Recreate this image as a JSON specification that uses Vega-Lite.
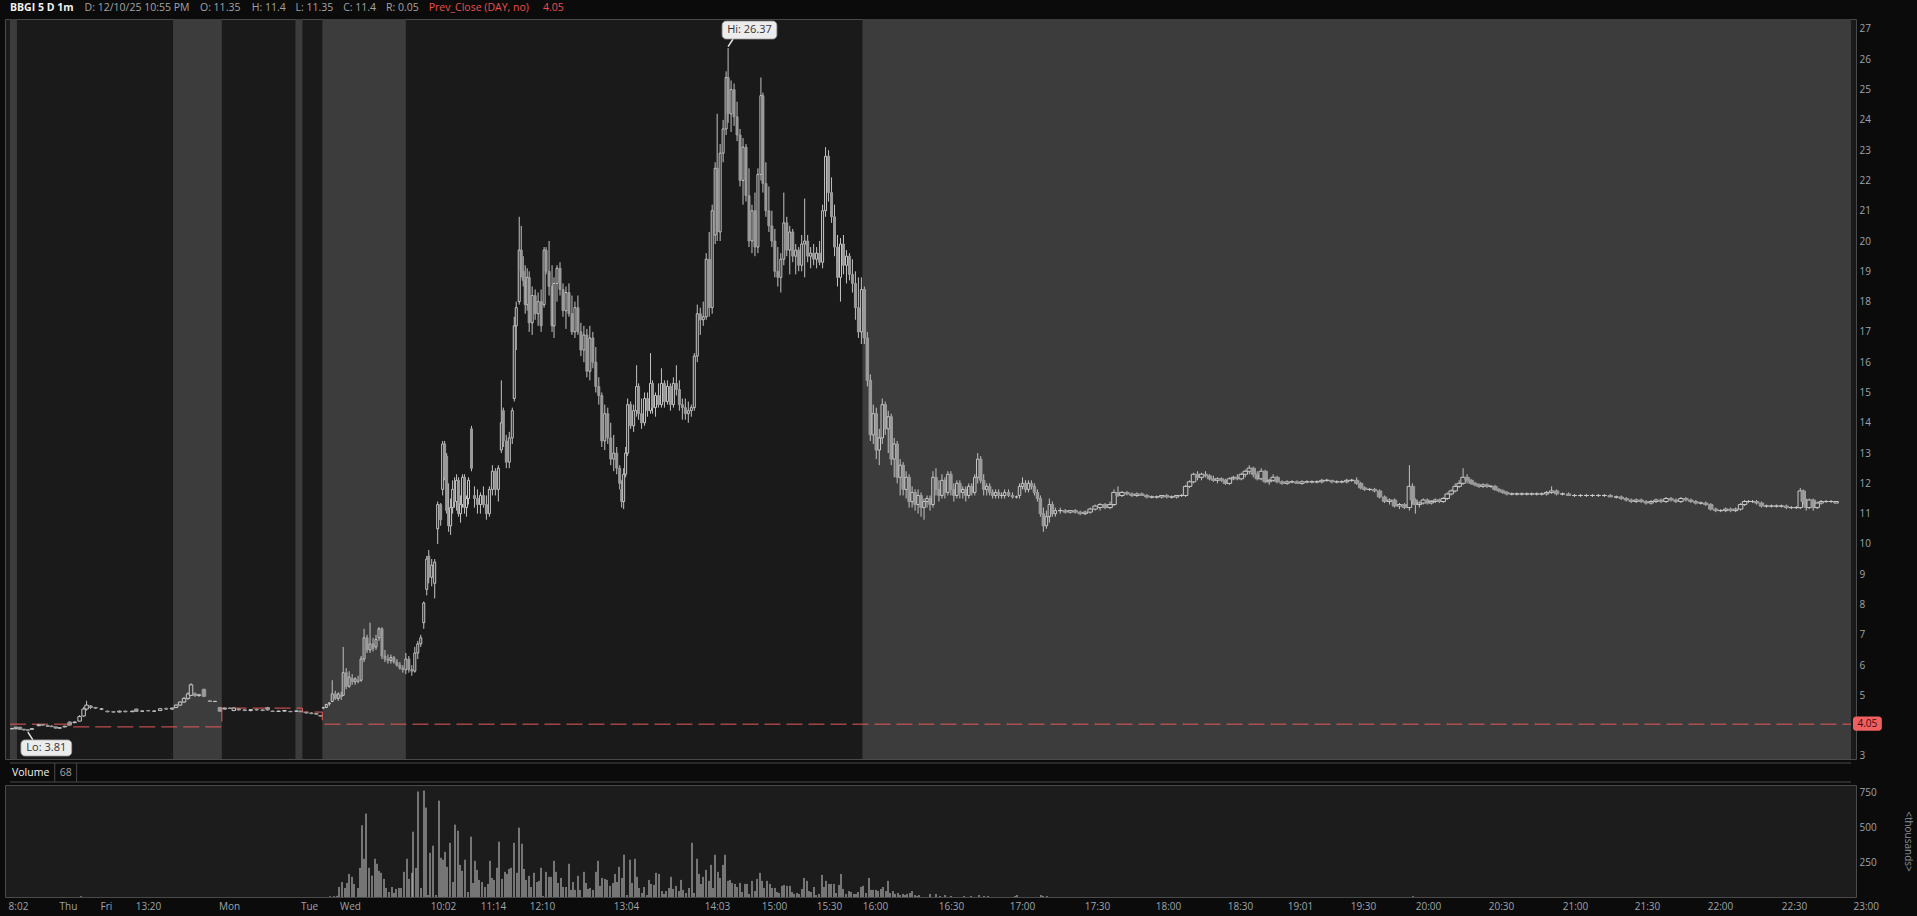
{
"$schema":"https://vega.github.io/schema/vega-lite/v6.json",
"background":"#0b0b0b",
"padding":{"left":4,"top":2,"right":4,"bottom":4},
"spacing":1,
"config":{"font":"Open Sans","view":{"stroke":"#4a4a4a"},"axis":{"labelOverlap":false}},
"datasets":{
"sess":[{"a":4,"b":11},{"a":168,"b":217},{"a":291,"b":298},{"a":318,"b":402},{"a":861,"b":1855}],
"pc":[{"i":4,"p":4.05},{"i":62,"p":3.96},{"i":217,"p":4.58},{"i":298,"p":4.45},{"i":318,"p":4.05},{"i":1855,"p":4.05}],
"candles":[
{"i":6,"o":3.9,"h":3.92,"l":3.88,"c":3.9},{"i":10,"o":3.9,"h":3.96,"l":3.88,"c":3.95},{"i":14,"o":3.95,"h":3.96,"l":3.86,"c":3.88},{"i":18,"o":3.88,"h":3.9,"l":3.84,"c":3.86},{"i":22,"o":3.86,"h":3.88,"l":3.81,"c":3.85},{"i":26,"o":3.88,"h":3.92,"l":3.86,"c":3.9},{"i":33,"o":4.0,"h":4.06,"l":3.98,"c":4.03},{"i":37,"o":4.03,"h":4.05,"l":4.0,"c":4.02},{"i":42,"o":4.0,"h":4.02,"l":3.96,"c":3.98},{"i":46,"o":3.98,"h":4.02,"l":3.95,"c":3.97},{"i":50,"o":3.96,"h":3.97,"l":3.9,"c":3.92},{"i":54,"o":3.92,"h":3.94,"l":3.9,"c":3.93},{"i":59,"o":3.96,"h":4.0,"l":3.95,"c":3.98},{"i":64,"o":4.12,"h":4.14,"l":4.0,"c":4.02},{"i":69,"o":4.1,"h":4.14,"l":4.08,"c":4.12},{"i":74,"o":4.15,"h":4.35,"l":4.14,"c":4.3},{"i":78,"o":4.32,"h":4.62,"l":4.3,"c":4.55},{"i":81,"o":4.55,"h":4.82,"l":4.5,"c":4.68},{"i":85,"o":4.65,"h":4.68,"l":4.55,"c":4.6},{"i":90,"o":4.6,"h":4.62,"l":4.55,"c":4.58},{"i":96,"o":4.55,"h":4.58,"l":4.52,"c":4.55},{"i":102,"o":4.48,"h":4.5,"l":4.44,"c":4.46},{"i":108,"o":4.46,"h":4.48,"l":4.42,"c":4.45},{"i":114,"o":4.45,"h":4.5,"l":4.44,"c":4.48},{"i":120,"o":4.48,"h":4.5,"l":4.44,"c":4.46},{"i":127,"o":4.46,"h":4.5,"l":4.45,"c":4.48},{"i":131,"o":4.55,"h":4.56,"l":4.45,"c":4.47},{"i":137,"o":4.48,"h":4.5,"l":4.46,"c":4.48},{"i":143,"o":4.5,"h":4.52,"l":4.47,"c":4.49},{"i":149,"o":4.48,"h":4.5,"l":4.46,"c":4.48},{"i":155,"o":4.5,"h":4.58,"l":4.49,"c":4.56},{"i":161,"o":4.56,"h":4.6,"l":4.52,"c":4.55},{"i":167,"o":4.55,"h":4.6,"l":4.52,"c":4.58},{"i":171,"o":4.6,"h":4.7,"l":4.58,"c":4.68},{"i":175,"o":4.68,"h":4.8,"l":4.65,"c":4.78},{"i":179,"o":4.78,"h":4.95,"l":4.75,"c":4.9},{"i":183,"o":4.9,"h":5.1,"l":4.85,"c":5.05},{"i":186,"o":5.0,"h":5.4,"l":4.98,"c":5.35},{"i":190,"o":5.05,"h":5.1,"l":4.95,"c":5.0},{"i":194,"o":5.0,"h":5.05,"l":4.95,"c":5.02},{"i":199,"o":5.2,"h":5.22,"l":4.95,"c":4.97},{"i":205,"o":4.82,"h":4.84,"l":4.78,"c":4.8},{"i":210,"o":4.8,"h":4.82,"l":4.78,"c":4.8},{"i":215,"o":4.6,"h":4.62,"l":4.45,"c":4.48},{"i":220,"o":4.55,"h":4.6,"l":4.53,"c":4.58},{"i":225,"o":4.58,"h":4.6,"l":4.55,"c":4.57},{"i":229,"o":4.5,"h":4.6,"l":4.48,"c":4.58},{"i":234,"o":4.55,"h":4.57,"l":4.5,"c":4.52},{"i":240,"o":4.52,"h":4.55,"l":4.48,"c":4.5},{"i":246,"o":4.5,"h":4.55,"l":4.47,"c":4.53},{"i":252,"o":4.53,"h":4.56,"l":4.5,"c":4.52},{"i":258,"o":4.52,"h":4.55,"l":4.48,"c":4.5},{"i":263,"o":4.6,"h":4.62,"l":4.5,"c":4.52},{"i":268,"o":4.48,"h":4.5,"l":4.45,"c":4.47},{"i":274,"o":4.47,"h":4.5,"l":4.45,"c":4.48},{"i":280,"o":4.48,"h":4.52,"l":4.46,"c":4.5},{"i":286,"o":4.47,"h":4.49,"l":4.45,"c":4.46},{"i":292,"o":4.48,"h":4.5,"l":4.46,"c":4.48},{"i":296,"o":4.48,"h":4.5,"l":4.45,"c":4.46},{"i":302,"o":4.44,"h":4.46,"l":4.4,"c":4.42},{"i":307,"o":4.42,"h":4.44,"l":4.38,"c":4.4},{"i":312,"o":4.4,"h":4.42,"l":4.36,"c":4.38},{"i":316,"o":4.33,"h":4.35,"l":4.3,"c":4.32},
{"i":319,"o":4.58,"h":4.62,"l":4.55,"c":4.6},{"i":322,"o":4.6,"h":4.72,"l":4.58,"c":4.7},{"i":325,"o":4.72,"h":4.78,"l":4.65,"c":4.75},{"i":328,"o":4.8,"h":5.5,"l":4.78,"c":5.05},{"i":331,"o":5.05,"h":5.15,"l":4.85,"c":4.9},{"i":334,"o":4.9,"h":5.1,"l":4.82,"c":5.05},{"i":337,"o":5.0,"h":5.12,"l":4.85,"c":4.95},{"i":339,"o":5.0,"h":6.6,"l":4.98,"c":5.75},{"i":342,"o":5.75,"h":5.9,"l":5.2,"c":5.3},{"i":345,"o":5.3,"h":5.8,"l":5.25,"c":5.6},{"i":348,"o":5.55,"h":5.7,"l":5.35,"c":5.45},{"i":351,"o":5.45,"h":5.6,"l":5.35,"c":5.55},{"i":354,"o":5.5,"h":5.65,"l":5.4,"c":5.45},{"i":357,"o":5.5,"h":6.3,"l":5.45,"c":6.2},{"i":360,"o":6.2,"h":7.2,"l":6.1,"c":6.9},{"i":363,"o":6.9,"h":7.0,"l":6.4,"c":6.5},{"i":366,"o":6.5,"h":7.4,"l":6.4,"c":6.7},{"i":369,"o":6.7,"h":6.9,"l":6.45,"c":6.55},{"i":372,"o":6.6,"h":7.0,"l":6.5,"c":6.85},{"i":375,"o":6.9,"h":7.25,"l":6.8,"c":7.2},{"i":378,"o":7.2,"h":7.25,"l":6.2,"c":6.3},{"i":381,"o":6.3,"h":6.5,"l":6.1,"c":6.2},{"i":384,"o":6.2,"h":6.35,"l":6.05,"c":6.15},{"i":387,"o":6.15,"h":6.35,"l":6.05,"c":6.25},{"i":390,"o":6.25,"h":6.3,"l":6.05,"c":6.1},{"i":393,"o":6.1,"h":6.2,"l":5.95,"c":6.0},{"i":396,"o":6.0,"h":6.1,"l":5.85,"c":5.9},{"i":399,"o":5.9,"h":6.0,"l":5.75,"c":5.85},{"i":402,"o":5.85,"h":6.4,"l":5.7,"c":6.2},{"i":405,"o":6.2,"h":6.3,"l":5.75,"c":5.85},{"i":408,"o":5.85,"h":6.0,"l":5.65,"c":5.8},
{"i":411,"o":5.8,"h":6.6,"l":5.75,"c":6.4},{"i":414,"o":6.4,"h":6.8,"l":6.2,"c":6.7},{"i":417,"o":6.7,"h":7.0,"l":6.6,"c":6.9},{"i":420,"o":7.4,"h":8.1,"l":7.2,"c":8.05},{"i":423,"o":8.5,"h":9.6,"l":8.3,"c":9.5},{"i":425,"o":9.6,"h":9.8,"l":8.7,"c":8.9},{"i":428,"o":8.9,"h":9.5,"l":8.6,"c":9.3},{"i":431,"o":8.7,"h":9.5,"l":8.2,"c":9.4},{"i":434,"o":10.5,"h":11.4,"l":10.0,"c":11.3},{"i":437,"o":11.3,"h":11.35,"l":10.6,"c":10.8},{"i":439,"o":11.8,"h":13.4,"l":11.6,"c":13.3},{"i":441,"o":13.3,"h":13.4,"l":12.1,"c":12.2},{"i":443,"o":12.9,"h":13.0,"l":11.0,"c":11.1},{"i":445,"o":11.1,"h":12.0,"l":10.4,"c":10.6},{"i":447,"o":10.6,"h":11.5,"l":10.3,"c":11.2},{"i":449,"o":11.2,"h":12.1,"l":11.0,"c":11.8},{"i":451,"o":11.8,"h":12.2,"l":11.2,"c":11.4},{"i":453,"o":11.4,"h":12.3,"l":11.1,"c":12.1},{"i":455,"o":12.1,"h":12.2,"l":10.9,"c":11.0},{"i":457,"o":11.0,"h":11.6,"l":10.7,"c":11.3},{"i":459,"o":11.3,"h":12.3,"l":11.2,"c":12.2},{"i":461,"o":12.2,"h":12.3,"l":11.0,"c":11.2},{"i":463,"o":11.2,"h":11.6,"l":10.9,"c":11.5},{"i":465,"o":11.5,"h":12.2,"l":11.3,"c":12.1},{"i":468,"o":13.8,"h":13.9,"l":12.4,"c":12.5},{"i":471,"o":11.6,"h":11.9,"l":11.2,"c":11.5},{"i":474,"o":11.5,"h":11.8,"l":11.0,"c":11.3},{"i":477,"o":11.3,"h":11.7,"l":11.0,"c":11.6},{"i":480,"o":11.6,"h":11.9,"l":11.2,"c":11.3},{"i":483,"o":11.3,"h":11.6,"l":10.8,"c":11.0},{"i":486,"o":11.0,"h":11.9,"l":10.9,"c":11.8},{"i":489,"o":11.8,"h":12.6,"l":11.6,"c":12.4},{"i":492,"o":12.4,"h":12.5,"l":11.6,"c":11.8},{"i":495,"o":11.8,"h":12.6,"l":11.4,"c":12.5},{"i":498,"o":13.1,"h":15.4,"l":13.0,"c":14.0},{"i":500,"o":14.4,"h":14.5,"l":13.2,"c":13.4},{"i":503,"o":13.4,"h":13.6,"l":12.5,"c":12.7},{"i":506,"o":12.7,"h":13.7,"l":12.5,"c":13.5},{"i":509,"o":13.5,"h":14.5,"l":13.3,"c":14.4},{"i":511,"o":14.8,"h":17.5,"l":14.7,"c":17.2},{"i":513,"o":17.2,"h":18.0,"l":16.4,"c":17.8},{"i":516,"o":18.0,"h":20.8,"l":17.9,"c":19.7},{"i":518,"o":19.7,"h":20.5,"l":18.8,"c":19.0},{"i":520,"o":19.0,"h":19.5,"l":18.5,"c":18.7},{"i":522,"o":18.7,"h":19.2,"l":17.6,"c":17.9},{"i":524,"o":17.9,"h":19.1,"l":17.7,"c":18.8},{"i":526,"o":18.8,"h":19.0,"l":17.0,"c":17.3},{"i":529,"o":17.3,"h":18.5,"l":16.9,"c":18.2},{"i":532,"o":18.2,"h":18.4,"l":17.4,"c":17.6},{"i":535,"o":17.6,"h":18.3,"l":17.2,"c":18.0},{"i":538,"o":18.0,"h":18.4,"l":17.0,"c":17.2},{"i":541,"o":17.9,"h":19.8,"l":17.8,"c":19.7},{"i":543,"o":19.7,"h":19.8,"l":18.9,"c":19.0},{"i":546,"o":19.0,"h":20.0,"l":18.2,"c":18.5},{"i":549,"o":18.5,"h":19.2,"l":17.0,"c":17.2},{"i":551,"o":17.2,"h":18.8,"l":16.8,"c":18.6},{"i":554,"o":18.6,"h":19.2,"l":18.0,"c":19.1},{"i":557,"o":19.1,"h":19.3,"l":18.2,"c":18.4},{"i":560,"o":18.4,"h":18.6,"l":17.5,"c":17.7},{"i":563,"o":17.7,"h":18.5,"l":17.1,"c":18.3},{"i":566,"o":18.3,"h":18.6,"l":17.5,"c":17.6},{"i":569,"o":17.6,"h":18.2,"l":16.9,"c":17.0},{"i":572,"o":17.0,"h":18.0,"l":16.8,"c":17.8},{"i":575,"o":17.8,"h":18.2,"l":16.9,"c":17.0},{"i":578,"o":17.0,"h":17.3,"l":16.2,"c":16.4},{"i":581,"o":16.4,"h":17.2,"l":16.0,"c":16.9},{"i":584,"o":16.9,"h":17.1,"l":15.5,"c":15.7},{"i":587,"o":15.7,"h":17.2,"l":15.4,"c":16.8},{"i":590,"o":16.8,"h":17.0,"l":15.8,"c":16.0},{"i":593,"o":16.0,"h":16.5,"l":15.0,"c":15.2},{"i":596,"o":15.2,"h":15.5,"l":14.6,"c":14.9},{"i":599,"o":14.9,"h":15.0,"l":13.2,"c":13.4},{"i":602,"o":13.4,"h":14.6,"l":13.1,"c":14.3},{"i":605,"o":14.3,"h":14.5,"l":13.3,"c":13.5},{"i":608,"o":13.5,"h":14.0,"l":12.6,"c":12.8},{"i":611,"o":12.8,"h":13.6,"l":12.4,"c":13.0},{"i":614,"o":13.0,"h":13.2,"l":12.3,"c":12.5},{"i":617,"o":12.5,"h":12.6,"l":11.8,"c":12.0},{"i":619,"o":11.8,"h":12.1,"l":11.2,"c":11.4},{"i":621,"o":11.4,"h":12.5,"l":11.15,"c":12.3},{"i":623,"o":12.3,"h":13.2,"l":12.2,"c":13.0},{"i":625,"o":13.0,"h":14.8,"l":12.9,"c":14.6},{"i":628,"o":14.6,"h":14.7,"l":13.8,"c":13.9},{"i":631,"o":13.9,"h":14.6,"l":13.7,"c":14.4},{"i":634,"o":14.4,"h":15.9,"l":14.2,"c":15.2},{"i":636,"o":15.2,"h":15.3,"l":14.1,"c":14.3},{"i":639,"o":14.3,"h":14.8,"l":13.8,"c":14.0},{"i":642,"o":14.0,"h":15.0,"l":13.9,"c":14.8},{"i":645,"o":14.8,"h":15.0,"l":14.2,"c":14.4},{"i":648,"o":14.4,"h":16.3,"l":14.3,"c":15.3},{"i":650,"o":15.3,"h":15.4,"l":14.3,"c":14.5},{"i":653,"o":14.5,"h":15.0,"l":14.2,"c":14.9},{"i":656,"o":14.9,"h":15.3,"l":14.5,"c":14.6},{"i":659,"o":14.6,"h":15.8,"l":14.5,"c":15.3},{"i":662,"o":15.3,"h":15.4,"l":14.5,"c":14.7},{"i":665,"o":14.7,"h":15.4,"l":14.6,"c":15.2},{"i":668,"o":15.2,"h":15.3,"l":14.4,"c":14.6},{"i":671,"o":14.6,"h":15.5,"l":14.5,"c":15.3},{"i":674,"o":15.3,"h":15.9,"l":14.9,"c":15.1},{"i":677,"o":15.1,"h":15.4,"l":14.4,"c":14.6},{"i":680,"o":14.6,"h":14.8,"l":14.1,"c":14.5},{"i":683,"o":14.5,"h":14.8,"l":14.1,"c":14.3},{"i":686,"o":14.3,"h":14.7,"l":14.0,"c":14.4},{"i":689,"o":14.4,"h":14.6,"l":14.2,"c":14.5},{"i":692,"o":14.5,"h":16.3,"l":14.4,"c":16.2},{"i":695,"o":16.2,"h":17.9,"l":16.0,"c":17.6},{"i":698,"o":17.6,"h":17.8,"l":16.9,"c":17.4},{"i":701,"o":17.4,"h":18.0,"l":17.2,"c":17.5},{"i":704,"o":17.5,"h":19.6,"l":17.4,"c":19.4},{"i":707,"o":19.4,"h":20.3,"l":17.5,"c":17.8},{"i":710,"o":17.8,"h":21.2,"l":17.6,"c":21.0},{"i":713,"o":20.2,"h":22.6,"l":19.9,"c":22.4},{"i":715,"o":22.4,"h":24.2,"l":20.0,"c":20.3},{"i":718,"o":20.3,"h":23.2,"l":20.0,"c":22.9},{"i":721,"o":22.9,"h":24.0,"l":22.6,"c":23.7},{"i":724,"o":23.7,"h":25.6,"l":23.5,"c":25.4},{"i":726,"o":25.4,"h":26.37,"l":23.9,"c":24.2},{"i":729,"o":24.2,"h":25.3,"l":23.6,"c":25.0},{"i":732,"o":25.0,"h":25.2,"l":23.8,"c":24.1},{"i":735,"o":24.1,"h":24.6,"l":23.3,"c":23.5},{"i":738,"o":23.5,"h":23.7,"l":21.8,"c":22.0},{"i":741,"o":22.0,"h":23.4,"l":21.2,"c":23.1},{"i":744,"o":23.1,"h":23.2,"l":21.3,"c":21.5},{"i":747,"o":21.5,"h":22.4,"l":19.8,"c":20.0},{"i":750,"o":20.0,"h":21.2,"l":19.6,"c":21.0},{"i":753,"o":21.0,"h":21.6,"l":19.5,"c":19.8},{"i":756,"o":19.8,"h":22.4,"l":19.6,"c":22.2},{"i":759,"o":22.2,"h":25.4,"l":22.0,"c":24.8},{"i":761,"o":24.8,"h":24.9,"l":21.6,"c":21.9},{"i":764,"o":21.9,"h":22.6,"l":20.8,"c":21.0},{"i":767,"o":21.0,"h":21.8,"l":20.3,"c":20.5},{"i":770,"o":20.5,"h":21.0,"l":19.8,"c":20.0},{"i":773,"o":20.0,"h":20.4,"l":18.8,"c":19.0},{"i":776,"o":19.0,"h":19.8,"l":18.5,"c":18.8},{"i":779,"o":18.8,"h":19.6,"l":18.3,"c":19.4},{"i":782,"o":19.4,"h":21.6,"l":19.2,"c":20.6},{"i":785,"o":20.6,"h":20.8,"l":19.5,"c":19.7},{"i":788,"o":19.7,"h":20.5,"l":18.9,"c":20.3},{"i":791,"o":20.3,"h":20.4,"l":19.3,"c":19.5},{"i":794,"o":19.5,"h":19.9,"l":18.9,"c":19.7},{"i":797,"o":19.7,"h":19.8,"l":19.0,"c":19.2},{"i":800,"o":19.2,"h":20.2,"l":19.0,"c":19.9},{"i":803,"o":19.9,"h":21.4,"l":18.8,"c":20.0},{"i":806,"o":20.0,"h":20.2,"l":19.3,"c":19.5},{"i":809,"o":19.5,"h":19.8,"l":19.1,"c":19.6},{"i":812,"o":19.6,"h":19.9,"l":19.2,"c":19.4},{"i":815,"o":19.4,"h":19.8,"l":19.1,"c":19.6},{"i":818,"o":19.6,"h":20.0,"l":19.2,"c":19.3},{"i":821,"o":19.3,"h":21.2,"l":19.1,"c":21.0},{"i":824,"o":21.0,"h":23.1,"l":20.8,"c":22.8},{"i":827,"o":22.8,"h":23.0,"l":21.3,"c":21.6},{"i":830,"o":21.6,"h":22.1,"l":20.6,"c":20.8},{"i":833,"o":20.8,"h":21.2,"l":19.5,"c":19.8},{"i":836,"o":19.8,"h":20.2,"l":18.5,"c":18.8},{"i":839,"o":18.8,"h":20.1,"l":18.0,"c":19.9},{"i":842,"o":19.9,"h":20.2,"l":18.9,"c":19.2},{"i":845,"o":19.2,"h":19.7,"l":18.6,"c":19.5},{"i":848,"o":19.5,"h":19.6,"l":18.7,"c":18.9},{"i":851,"o":18.9,"h":19.4,"l":18.3,"c":18.6},{"i":854,"o":18.6,"h":19.0,"l":17.4,"c":17.8},{"i":857,"o":17.8,"h":18.8,"l":16.8,"c":17.0},{"i":860,"o":17.0,"h":18.8,"l":16.6,"c":18.4},
{"i":863,"o":18.4,"h":18.5,"l":16.6,"c":16.8},{"i":866,"o":16.8,"h":17.0,"l":15.2,"c":15.4},{"i":869,"o":15.4,"h":15.6,"l":13.4,"c":13.6},{"i":872,"o":13.6,"h":14.6,"l":13.3,"c":14.3},{"i":875,"o":14.3,"h":14.5,"l":12.8,"c":13.1},{"i":878,"o":13.1,"h":13.8,"l":12.6,"c":13.5},{"i":881,"o":13.5,"h":14.8,"l":13.3,"c":14.6},{"i":884,"o":14.6,"h":14.7,"l":13.6,"c":13.8},{"i":887,"o":13.8,"h":14.4,"l":13.0,"c":14.2},{"i":890,"o":14.2,"h":14.3,"l":12.6,"c":12.8},{"i":893,"o":12.8,"h":13.5,"l":12.2,"c":13.3},{"i":896,"o":13.3,"h":13.4,"l":12.0,"c":12.2},{"i":899,"o":12.2,"h":12.8,"l":11.6,"c":12.6},{"i":902,"o":12.6,"h":12.7,"l":11.6,"c":11.8},{"i":905,"o":11.8,"h":12.4,"l":11.5,"c":12.2},{"i":908,"o":12.2,"h":12.3,"l":11.2,"c":11.4},{"i":911,"o":11.4,"h":11.9,"l":11.2,"c":11.7},{"i":914,"o":11.7,"h":11.8,"l":11.1,"c":11.3},{"i":917,"o":11.3,"h":11.8,"l":11.0,"c":11.6},{"i":920,"o":11.6,"h":11.7,"l":10.9,"c":11.2},{"i":923,"o":11.2,"h":11.5,"l":10.8,"c":11.4},{"i":926,"o":11.4,"h":11.6,"l":11.2,"c":11.5},{"i":929,"o":11.5,"h":11.6,"l":11.1,"c":11.3},{"i":932,"o":11.3,"h":12.4,"l":11.2,"c":12.2},{"i":935,"o":12.2,"h":12.5,"l":11.6,"c":11.8},{"i":938,"o":11.8,"h":12.1,"l":11.4,"c":11.6},{"i":941,"o":11.6,"h":12.3,"l":11.5,"c":12.1},{"i":944,"o":12.1,"h":12.2,"l":11.5,"c":11.7},{"i":947,"o":11.7,"h":12.4,"l":11.6,"c":12.3},{"i":950,"o":12.3,"h":12.4,"l":11.6,"c":11.8},{"i":953,"o":11.8,"h":12.0,"l":11.4,"c":11.6},{"i":956,"o":11.6,"h":12.1,"l":11.5,"c":12.0},{"i":959,"o":12.0,"h":12.1,"l":11.5,"c":11.7},{"i":962,"o":11.7,"h":11.9,"l":11.5,"c":11.8},{"i":965,"o":11.8,"h":11.9,"l":11.4,"c":11.6},{"i":968,"o":11.6,"h":12.0,"l":11.5,"c":11.9},{"i":971,"o":11.9,"h":12.0,"l":11.6,"c":11.7},{"i":974,"o":11.7,"h":12.3,"l":11.6,"c":12.2},{"i":977,"o":12.2,"h":13.0,"l":12.0,"c":12.8},{"i":980,"o":12.8,"h":12.9,"l":12.0,"c":12.1},{"i":983,"o":12.1,"h":12.3,"l":11.6,"c":11.8},{"i":986,"o":11.8,"h":12.0,"l":11.6,"c":11.9},{"i":989,"o":11.9,"h":12.0,"l":11.6,"c":11.7},{"i":992,"o":11.7,"h":11.8,"l":11.5,"c":11.6},{"i":995,"o":11.6,"h":11.8,"l":11.5,"c":11.7},{"i":998,"o":11.7,"h":11.8,"l":11.5,"c":11.6},{"i":1001,"o":11.6,"h":11.7,"l":11.5,"c":11.6},{"i":1004,"o":11.6,"h":11.8,"l":11.5,"c":11.7},{"i":1008,"o":11.7,"h":11.8,"l":11.55,"c":11.6},{"i":1012,"o":11.6,"h":11.7,"l":11.5,"c":11.55},{"i":1016,"o":11.55,"h":11.6,"l":11.5,"c":11.55},{"i":1019,"o":11.6,"h":12.0,"l":11.5,"c":11.9},{"i":1022,"o":11.9,"h":12.2,"l":11.8,"c":12.0},{"i":1025,"o":12.0,"h":12.1,"l":11.7,"c":11.8},{"i":1028,"o":11.8,"h":12.1,"l":11.7,"c":12.0},{"i":1031,"o":12.0,"h":12.1,"l":11.8,"c":11.9},{"i":1034,"o":11.9,"h":12.0,"l":11.6,"c":11.7},{"i":1037,"o":11.7,"h":11.8,"l":11.4,"c":11.5},{"i":1040,"o":11.5,"h":11.6,"l":10.9,"c":11.0},{"i":1043,"o":11.0,"h":11.2,"l":10.4,"c":10.6},{"i":1046,"o":10.6,"h":11.1,"l":10.5,"c":10.9},{"i":1049,"o":10.9,"h":11.5,"l":10.7,"c":11.3},{"i":1052,"o":11.3,"h":11.4,"l":10.9,"c":11.0},{"i":1055,"o":11.0,"h":11.2,"l":10.9,"c":11.1},{"i":1060,"o":11.1,"h":11.2,"l":11.0,"c":11.1},{"i":1065,"o":11.1,"h":11.15,"l":11.0,"c":11.05},{"i":1070,"o":11.05,"h":11.1,"l":11.0,"c":11.1},{"i":1075,"o":11.1,"h":11.15,"l":11.0,"c":11.05},{"i":1080,"o":11.05,"h":11.1,"l":10.95,"c":11.0},{"i":1085,"o":11.0,"h":11.1,"l":10.95,"c":11.05},{"i":1090,"o":11.05,"h":11.2,"l":11.0,"c":11.15},{"i":1095,"o":11.15,"h":11.3,"l":11.1,"c":11.25},{"i":1100,"o":11.2,"h":11.35,"l":11.1,"c":11.3},{"i":1105,"o":11.3,"h":11.35,"l":11.15,"c":11.2},{"i":1110,"o":11.2,"h":11.4,"l":11.15,"c":11.3},{"i":1114,"o":11.3,"h":11.8,"l":11.25,"c":11.7},{"i":1118,"o":11.7,"h":11.9,"l":11.55,"c":11.6},{"i":1122,"o":11.6,"h":11.75,"l":11.55,"c":11.7},{"i":1127,"o":11.7,"h":11.75,"l":11.6,"c":11.65},{"i":1132,"o":11.65,"h":11.7,"l":11.55,"c":11.6},{"i":1137,"o":11.6,"h":11.7,"l":11.55,"c":11.65},{"i":1142,"o":11.65,"h":11.7,"l":11.6,"c":11.6},{"i":1147,"o":11.6,"h":11.65,"l":11.5,"c":11.55},{"i":1152,"o":11.55,"h":11.6,"l":11.5,"c":11.55},{"i":1157,"o":11.55,"h":11.6,"l":11.5,"c":11.55},{"i":1162,"o":11.55,"h":11.6,"l":11.5,"c":11.6},{"i":1167,"o":11.6,"h":11.65,"l":11.5,"c":11.55},{"i":1172,"o":11.55,"h":11.6,"l":11.5,"c":11.55},{"i":1177,"o":11.55,"h":11.6,"l":11.5,"c":11.6},{"i":1182,"o":11.6,"h":11.65,"l":11.55,"c":11.6},{"i":1186,"o":11.6,"h":11.95,"l":11.55,"c":11.9},{"i":1190,"o":11.9,"h":12.1,"l":11.85,"c":12.05},{"i":1194,"o":12.05,"h":12.35,"l":12.0,"c":12.3},{"i":1198,"o":12.3,"h":12.4,"l":12.1,"c":12.2},{"i":1202,"o":12.2,"h":12.35,"l":12.1,"c":12.3},{"i":1206,"o":12.3,"h":12.4,"l":12.2,"c":12.25},{"i":1210,"o":12.25,"h":12.3,"l":12.1,"c":12.15},{"i":1214,"o":12.15,"h":12.25,"l":12.05,"c":12.1},{"i":1218,"o":12.1,"h":12.2,"l":12.0,"c":12.15},{"i":1222,"o":12.15,"h":12.2,"l":12.05,"c":12.1},{"i":1226,"o":12.1,"h":12.15,"l":11.95,"c":12.0},{"i":1230,"o":12.0,"h":12.2,"l":11.95,"c":12.15},{"i":1234,"o":12.15,"h":12.25,"l":12.1,"c":12.2},{"i":1238,"o":12.2,"h":12.3,"l":12.1,"c":12.15},{"i":1242,"o":12.15,"h":12.35,"l":12.1,"c":12.3},{"i":1246,"o":12.3,"h":12.45,"l":12.2,"c":12.4},{"i":1250,"o":12.4,"h":12.6,"l":12.3,"c":12.5},{"i":1254,"o":12.5,"h":12.55,"l":12.2,"c":12.3},{"i":1258,"o":12.3,"h":12.4,"l":12.1,"c":12.15},{"i":1262,"o":12.15,"h":12.5,"l":12.1,"c":12.4},{"i":1266,"o":12.4,"h":12.45,"l":12.0,"c":12.05},{"i":1270,"o":12.05,"h":12.15,"l":11.95,"c":12.1},{"i":1274,"o":12.1,"h":12.3,"l":12.05,"c":12.2},{"i":1278,"o":12.2,"h":12.25,"l":12.0,"c":12.05},{"i":1283,"o":12.05,"h":12.1,"l":11.95,"c":12.0},{"i":1288,"o":12.0,"h":12.1,"l":11.95,"c":12.05},{"i":1293,"o":12.05,"h":12.1,"l":12.0,"c":12.05},{"i":1298,"o":12.05,"h":12.1,"l":12.0,"c":12.0},{"i":1303,"o":12.0,"h":12.1,"l":11.95,"c":12.05},{"i":1308,"o":12.05,"h":12.1,"l":12.0,"c":12.05},{"i":1313,"o":12.05,"h":12.1,"l":12.0,"c":12.05},{"i":1318,"o":12.05,"h":12.1,"l":12.0,"c":12.05},{"i":1323,"o":12.05,"h":12.15,"l":12.0,"c":12.1},{"i":1328,"o":12.1,"h":12.15,"l":12.05,"c":12.1},{"i":1333,"o":12.1,"h":12.1,"l":12.0,"c":12.05},{"i":1338,"o":12.05,"h":12.1,"l":12.0,"c":12.05},{"i":1343,"o":12.05,"h":12.1,"l":12.0,"c":12.05},{"i":1348,"o":12.05,"h":12.15,"l":12.0,"c":12.1},{"i":1353,"o":12.1,"h":12.15,"l":12.05,"c":12.1},{"i":1358,"o":12.1,"h":12.2,"l":11.95,"c":12.0},{"i":1362,"o":12.0,"h":12.05,"l":11.8,"c":11.85},{"i":1366,"o":11.85,"h":11.9,"l":11.75,"c":11.8},{"i":1371,"o":11.8,"h":11.85,"l":11.75,"c":11.8},{"i":1376,"o":11.8,"h":11.85,"l":11.7,"c":11.75},{"i":1381,"o":11.75,"h":11.8,"l":11.5,"c":11.55},{"i":1386,"o":11.55,"h":11.6,"l":11.35,"c":11.4},{"i":1391,"o":11.4,"h":11.5,"l":11.3,"c":11.45},{"i":1396,"o":11.45,"h":11.5,"l":11.2,"c":11.25},{"i":1401,"o":11.25,"h":11.35,"l":11.15,"c":11.3},{"i":1406,"o":11.3,"h":11.35,"l":11.15,"c":11.2},{"i":1411,"o":11.2,"h":12.6,"l":11.1,"c":11.9},{"i":1414,"o":11.9,"h":12.0,"l":11.3,"c":11.45},{"i":1417,"o":11.45,"h":11.5,"l":11.0,"c":11.3},{"i":1421,"o":11.3,"h":11.4,"l":11.2,"c":11.35},{"i":1425,"o":11.35,"h":11.5,"l":11.3,"c":11.45},{"i":1429,"o":11.45,"h":11.5,"l":11.3,"c":11.35},{"i":1433,"o":11.35,"h":11.45,"l":11.3,"c":11.4},{"i":1437,"o":11.4,"h":11.5,"l":11.35,"c":11.45},{"i":1441,"o":11.45,"h":11.5,"l":11.35,"c":11.4},{"i":1445,"o":11.4,"h":11.55,"l":11.35,"c":11.5},{"i":1449,"o":11.5,"h":11.7,"l":11.45,"c":11.65},{"i":1453,"o":11.65,"h":11.8,"l":11.6,"c":11.75},{"i":1457,"o":11.75,"h":12.0,"l":11.7,"c":11.9},{"i":1461,"o":11.9,"h":12.1,"l":11.85,"c":12.0},{"i":1465,"o":12.0,"h":12.5,"l":11.95,"c":12.2},{"i":1469,"o":12.2,"h":12.3,"l":12.0,"c":12.1},{"i":1473,"o":12.1,"h":12.15,"l":11.95,"c":12.0},{"i":1477,"o":12.0,"h":12.05,"l":11.9,"c":11.95},{"i":1481,"o":11.95,"h":12.0,"l":11.85,"c":11.9},{"i":1485,"o":11.9,"h":12.0,"l":11.85,"c":11.95},{"i":1489,"o":11.95,"h":12.0,"l":11.85,"c":11.9},{"i":1493,"o":11.9,"h":11.95,"l":11.85,"c":11.9},{"i":1497,"o":11.9,"h":11.95,"l":11.75,"c":11.8},{"i":1501,"o":11.8,"h":11.85,"l":11.7,"c":11.75},{"i":1505,"o":11.75,"h":11.8,"l":11.65,"c":11.7},{"i":1509,"o":11.7,"h":11.75,"l":11.6,"c":11.65},{"i":1514,"o":11.65,"h":11.7,"l":11.6,"c":11.65},{"i":1519,"o":11.65,"h":11.7,"l":11.6,"c":11.65},{"i":1524,"o":11.65,"h":11.7,"l":11.6,"c":11.65},{"i":1529,"o":11.65,"h":11.7,"l":11.6,"c":11.65},{"i":1534,"o":11.65,"h":11.7,"l":11.6,"c":11.65},{"i":1539,"o":11.65,"h":11.7,"l":11.6,"c":11.65},{"i":1544,"o":11.65,"h":11.7,"l":11.6,"c":11.65},{"i":1549,"o":11.65,"h":11.75,"l":11.6,"c":11.7},{"i":1554,"o":11.7,"h":11.9,"l":11.65,"c":11.75},{"i":1559,"o":11.75,"h":11.8,"l":11.6,"c":11.65},{"i":1565,"o":11.65,"h":11.7,"l":11.6,"c":11.65},{"i":1571,"o":11.65,"h":11.7,"l":11.6,"c":11.6},{"i":1577,"o":11.6,"h":11.65,"l":11.55,"c":11.6},{"i":1583,"o":11.6,"h":11.65,"l":11.55,"c":11.6},{"i":1589,"o":11.6,"h":11.65,"l":11.55,"c":11.6},{"i":1595,"o":11.6,"h":11.65,"l":11.55,"c":11.6},{"i":1601,"o":11.6,"h":11.65,"l":11.55,"c":11.6},{"i":1607,"o":11.6,"h":11.65,"l":11.55,"c":11.6},{"i":1613,"o":11.6,"h":11.65,"l":11.55,"c":11.55},{"i":1619,"o":11.55,"h":11.6,"l":11.5,"c":11.55},{"i":1624,"o":11.55,"h":11.6,"l":11.45,"c":11.5},{"i":1629,"o":11.5,"h":11.55,"l":11.4,"c":11.45},{"i":1634,"o":11.45,"h":11.5,"l":11.35,"c":11.4},{"i":1639,"o":11.4,"h":11.5,"l":11.35,"c":11.45},{"i":1644,"o":11.45,"h":11.5,"l":11.35,"c":11.4},{"i":1649,"o":11.4,"h":11.45,"l":11.3,"c":11.35},{"i":1654,"o":11.35,"h":11.45,"l":11.3,"c":11.4},{"i":1659,"o":11.4,"h":11.5,"l":11.35,"c":11.45},{"i":1664,"o":11.45,"h":11.5,"l":11.35,"c":11.4},{"i":1669,"o":11.4,"h":11.55,"l":11.35,"c":11.5},{"i":1674,"o":11.5,"h":11.55,"l":11.4,"c":11.45},{"i":1679,"o":11.45,"h":11.5,"l":11.35,"c":11.4},{"i":1684,"o":11.4,"h":11.55,"l":11.35,"c":11.5},{"i":1689,"o":11.5,"h":11.55,"l":11.4,"c":11.45},{"i":1694,"o":11.45,"h":11.5,"l":11.35,"c":11.4},{"i":1699,"o":11.4,"h":11.45,"l":11.3,"c":11.35},{"i":1704,"o":11.35,"h":11.4,"l":11.3,"c":11.35},{"i":1709,"o":11.35,"h":11.4,"l":11.25,"c":11.3},{"i":1714,"o":11.3,"h":11.35,"l":11.1,"c":11.15},{"i":1719,"o":11.15,"h":11.2,"l":11.05,"c":11.1},{"i":1724,"o":11.1,"h":11.15,"l":11.05,"c":11.1},{"i":1729,"o":11.1,"h":11.2,"l":11.05,"c":11.15},{"i":1734,"o":11.15,"h":11.2,"l":11.05,"c":11.1},{"i":1739,"o":11.1,"h":11.2,"l":11.05,"c":11.15},{"i":1744,"o":11.15,"h":11.35,"l":11.1,"c":11.3},{"i":1748,"o":11.3,"h":11.45,"l":11.25,"c":11.4},{"i":1752,"o":11.4,"h":11.45,"l":11.35,"c":11.4},{"i":1756,"o":11.4,"h":11.45,"l":11.35,"c":11.4},{"i":1760,"o":11.4,"h":11.45,"l":11.3,"c":11.35},{"i":1765,"o":11.35,"h":11.4,"l":11.2,"c":11.25},{"i":1770,"o":11.25,"h":11.3,"l":11.2,"c":11.25},{"i":1775,"o":11.25,"h":11.3,"l":11.2,"c":11.25},{"i":1780,"o":11.25,"h":11.3,"l":11.2,"c":11.25},{"i":1785,"o":11.25,"h":11.3,"l":11.2,"c":11.25},{"i":1790,"o":11.25,"h":11.3,"l":11.15,"c":11.2},{"i":1795,"o":11.2,"h":11.25,"l":11.15,"c":11.2},{"i":1800,"o":11.2,"h":11.25,"l":11.15,"c":11.2},{"i":1804,"o":11.2,"h":11.85,"l":11.15,"c":11.75},{"i":1807,"o":11.75,"h":11.8,"l":11.3,"c":11.4},{"i":1810,"o":11.4,"h":11.5,"l":11.1,"c":11.2},{"i":1813,"o":11.2,"h":11.5,"l":11.15,"c":11.45},{"i":1817,"o":11.45,"h":11.5,"l":11.1,"c":11.2},{"i":1821,"o":11.2,"h":11.4,"l":11.15,"c":11.35},{"i":1825,"o":11.35,"h":11.45,"l":11.3,"c":11.4},{"i":1830,"o":11.4,"h":11.45,"l":11.35,"c":11.4},{"i":1835,"o":11.4,"h":11.45,"l":11.35,"c":11.4},{"i":1840,"o":11.35,"h":11.4,"l":11.35,"c":11.4}
],
"vol":[
{"i":80,"v":6},{"i":329,"v":5},{"i":333,"v":6},{"i":336,"v":8},{"i":338,"v":72},{"i":341,"v":108},{"i":344,"v":65},{"i":346,"v":101},{"i":348,"v":166},{"i":351,"v":145},{"i":353,"v":94},{"i":357,"v":65},{"i":359,"v":210},{"i":361,"v":516},{"i":363,"v":275},{"i":365,"v":600},{"i":368,"v":210},{"i":371,"v":154},{"i":374,"v":275},{"i":376,"v":239},{"i":378,"v":188},{"i":380,"v":174},{"i":383,"v":130},{"i":385,"v":65},{"i":388,"v":36},{"i":391,"v":72},{"i":393,"v":29},{"i":395,"v":58},{"i":398,"v":65},{"i":400,"v":65},{"i":403,"v":181},{"i":406,"v":275},{"i":408,"v":130},{"i":411,"v":174},{"i":412,"v":470},{"i":415,"v":210},{"i":417,"v":759},{"i":420,"v":65},{"i":423,"v":766},{"i":425,"v":643},{"i":427,"v":14},{"i":429,"v":318},{"i":432,"v":369},{"i":435,"v":14},{"i":438,"v":694},{"i":440,"v":282},{"i":442,"v":268},{"i":444,"v":325},{"i":446,"v":217},{"i":449,"v":390},{"i":452,"v":108},{"i":454,"v":521},{"i":457,"v":477},{"i":459,"v":231},{"i":461,"v":188},{"i":464,"v":268},{"i":467,"v":36},{"i":470,"v":434},{"i":472,"v":101},{"i":474,"v":260},{"i":476,"v":195},{"i":478,"v":123},{"i":481,"v":108},{"i":484,"v":72},{"i":487,"v":94},{"i":489,"v":260},{"i":491,"v":137},{"i":493,"v":123},{"i":496,"v":210},{"i":498,"v":398},{"i":501,"v":130},{"i":504,"v":181},{"i":506,"v":166},{"i":508,"v":202},{"i":510,"v":210},{"i":513,"v":390},{"i":516,"v":174},{"i":518,"v":499},{"i":521,"v":383},{"i":523,"v":202},{"i":525,"v":123},{"i":528,"v":152},{"i":530,"v":72},{"i":533,"v":174},{"i":536,"v":108},{"i":538,"v":116},{"i":540,"v":210},{"i":542,"v":7},{"i":545,"v":181},{"i":548,"v":145},{"i":550,"v":145},{"i":553,"v":260},{"i":555,"v":181},{"i":557,"v":101},{"i":560,"v":137},{"i":562,"v":72},{"i":565,"v":72},{"i":568,"v":239},{"i":570,"v":51},{"i":572,"v":108},{"i":574,"v":51},{"i":577,"v":152},{"i":579,"v":51},{"i":583,"v":181},{"i":585,"v":101},{"i":587,"v":58},{"i":589,"v":65},{"i":592,"v":51},{"i":595,"v":181},{"i":597,"v":260},{"i":599,"v":80},{"i":601,"v":137},{"i":604,"v":130},{"i":606,"v":123},{"i":609,"v":80},{"i":612,"v":101},{"i":614,"v":166},{"i":616,"v":108},{"i":618,"v":217},{"i":621,"v":137},{"i":623,"v":304},{"i":626,"v":14},{"i":629,"v":268},{"i":631,"v":101},{"i":634,"v":275},{"i":636,"v":145},{"i":638,"v":65},{"i":641,"v":29},{"i":643,"v":72},{"i":646,"v":14},{"i":648,"v":123},{"i":650,"v":94},{"i":653,"v":87},{"i":655,"v":174},{"i":658,"v":166},{"i":661,"v":43},{"i":663,"v":22},{"i":665,"v":43},{"i":668,"v":65},{"i":670,"v":145},{"i":672,"v":58},{"i":675,"v":80},{"i":678,"v":43},{"i":680,"v":123},{"i":682,"v":51},{"i":685,"v":29},{"i":688,"v":65},{"i":691,"v":390},{"i":693,"v":29},{"i":696,"v":275},{"i":698,"v":166},{"i":700,"v":94},{"i":702,"v":145},{"i":705,"v":195},{"i":708,"v":116},{"i":710,"v":231},{"i":712,"v":65},{"i":714,"v":304},{"i":717,"v":181},{"i":719,"v":137},{"i":722,"v":231},{"i":724,"v":304},{"i":727,"v":116},{"i":729,"v":123},{"i":731,"v":101},{"i":734,"v":94},{"i":736,"v":72},{"i":739,"v":101},{"i":741,"v":36},{"i":744,"v":94},{"i":746,"v":94},{"i":748,"v":22},{"i":751,"v":116},{"i":754,"v":43},{"i":756,"v":130},{"i":759,"v":174},{"i":761,"v":116},{"i":763,"v":65},{"i":766,"v":116},{"i":769,"v":94},{"i":771,"v":65},{"i":774,"v":65},{"i":776,"v":36},{"i":778,"v":29},{"i":781,"v":80},{"i":783,"v":87},{"i":786,"v":80},{"i":789,"v":80},{"i":791,"v":36},{"i":793,"v":22},{"i":796,"v":29},{"i":798,"v":22},{"i":801,"v":58},{"i":803,"v":137},{"i":806,"v":116},{"i":808,"v":43},{"i":810,"v":36},{"i":813,"v":72},{"i":815,"v":14},{"i":818,"v":22},{"i":821,"v":159},{"i":823,"v":72},{"i":825,"v":116},{"i":828,"v":94},{"i":830,"v":94},{"i":833,"v":94},{"i":835,"v":29},{"i":838,"v":87},{"i":840,"v":166},{"i":842,"v":58},{"i":845,"v":22},{"i":848,"v":43},{"i":850,"v":36},{"i":853,"v":22},{"i":855,"v":22},{"i":857,"v":36},{"i":860,"v":72},{"i":862,"v":80},{"i":865,"v":29},{"i":868,"v":137},{"i":870,"v":51},{"i":872,"v":51},{"i":875,"v":51},{"i":877,"v":43},{"i":880,"v":58},{"i":882,"v":72},{"i":885,"v":43},{"i":887,"v":116},{"i":889,"v":29},{"i":892,"v":43},{"i":894,"v":22},{"i":897,"v":29},{"i":899,"v":14},{"i":902,"v":22},{"i":904,"v":14},{"i":906,"v":22},{"i":909,"v":29},{"i":911,"v":43},{"i":914,"v":14},{"i":916,"v":7},{"i":918,"v":14},{"i":929,"v":22},{"i":935,"v":22},{"i":939,"v":7},{"i":944,"v":14},{"i":950,"v":7},{"i":963,"v":7},{"i":970,"v":7},{"i":978,"v":14},{"i":983,"v":7},{"i":987,"v":7},{"i":1014,"v":7},{"i":1016,"v":14},{"i":1040,"v":14},{"i":1042,"v":7},{"i":1046,"v":7},{"i":1412,"v":6}
]},
"vconcat":[
{"width":1851,"height":740,
"view":{"fill":"#1a1a1a","stroke":"#4a4a4a"},
"layer":[
{"data":{"name":"sess"},"mark":{"type":"rect","color":"#3c3c3c"},
 "encoding":{"x":{"field":"a","type":"quantitative","scale":{"domain":[4,1855],"nice":false,"zero":false},"axis":null},"x2":{"field":"b"}}},
{"data":{"name":"pc"},"mark":{"type":"line","interpolate":"step-after","color":"#e85a5a","strokeWidth":1,"strokeDash":[16,6]},
 "encoding":{"x":{"field":"i","type":"quantitative","axis":null},"y":{"field":"p","type":"quantitative","title":null}}},
{"data":{"name":"candles"},"mark":{"type":"rule","color":"#c2c2c2","strokeWidth":1},
 "encoding":{"x":{"field":"i","type":"quantitative","axis":null},
  "y":{"field":"l","type":"quantitative","title":null,"scale":{"domain":[2.9,27.33],"nice":false,"zero":false},
   "axis":{"orient":"right","values":[3,5,6,7,8,9,10,11,12,13,14,15,16,17,18,19,20,21,22,23,24,25,26,27],"tickCount":100,"format":"d","labelOverlap":false,"ticks":false,"domain":false,"grid":false,"labelColor":"#9ea4ab","labelFontSize":10,"labelPadding":3,"labelFont":"Open Sans","title":null}},
  "y2":{"field":"h"}}},
{"data":{"name":"candles"},"transform":[{"filter":"datum.i < 318"}],"mark":{"type":"bar","width":3.5,"strokeWidth":1},
 "encoding":{"x":{"field":"i","type":"quantitative","axis":null},"y":{"field":"o","type":"quantitative","title":null},"y2":{"field":"c"},
  "fill":{"condition":[{"test":"datum.c < datum.o","value":"#9b9b9b"},{"test":"(datum.i>=168&&datum.i<217)||(datum.i>=291&&datum.i<298)||datum.i<11","value":"#3c3c3c"}],"value":"#1a1a1a"},
  "stroke":{"condition":{"test":"datum.c < datum.o","value":"#9b9b9b"},"value":"#c8c8c8"}}},
{"data":{"name":"candles"},"transform":[{"filter":"datum.i >= 318 && datum.i < 861"}],"mark":{"type":"bar","width":2,"strokeWidth":1},
 "encoding":{"x":{"field":"i","type":"quantitative","axis":null},"y":{"field":"o","type":"quantitative","title":null},"y2":{"field":"c"},
  "fill":{"condition":[{"test":"datum.c < datum.o","value":"#9b9b9b"},{"test":"datum.i<402","value":"#3c3c3c"}],"value":"#1a1a1a"},
  "stroke":{"condition":{"test":"datum.c < datum.o","value":"#9b9b9b"},"value":"#c8c8c8"}}},
{"data":{"name":"candles"},"transform":[{"filter":"datum.i >= 861 && datum.i < 1056"}],"mark":{"type":"bar","width":2.5,"strokeWidth":1},
 "encoding":{"x":{"field":"i","type":"quantitative","axis":null},"y":{"field":"o","type":"quantitative","title":null},"y2":{"field":"c"},
  "fill":{"condition":{"test":"datum.c < datum.o","value":"#9b9b9b"},"value":"#3c3c3c"},
  "stroke":{"condition":{"test":"datum.c < datum.o","value":"#9b9b9b"},"value":"#c8c8c8"}}},
{"data":{"name":"candles"},"transform":[{"filter":"datum.i >= 1056"}],"mark":{"type":"bar","width":4.5,"strokeWidth":1},
 "encoding":{"x":{"field":"i","type":"quantitative","axis":null},"y":{"field":"o","type":"quantitative","title":null},"y2":{"field":"c"},
  "fill":{"condition":{"test":"datum.c < datum.o","value":"#9b9b9b"},"value":"#3c3c3c"},
  "stroke":{"condition":{"test":"datum.c < datum.o","value":"#9b9b9b"},"value":"#c8c8c8"}}},
{"data":{"values":[{}]},"mark":{"type":"rule","color":"#e6e6e6","strokeWidth":1.5},
 "encoding":{"x":{"datum":726,"type":"quantitative","axis":null},"x2":{"datum":731},"y":{"datum":26.42,"type":"quantitative","title":null},"y2":{"datum":26.67}}},
{"data":{"values":[{}]},"mark":{"type":"rect","fill":"#ececec","stroke":"#a0a0a0","strokeWidth":0.8,"cornerRadius":4},
 "encoding":{"x":{"datum":720,"type":"quantitative","axis":null},"x2":{"datum":775},"y":{"datum":27.26,"type":"quantitative","title":null},"y2":{"datum":26.67}}},
{"data":{"values":[{}]},"mark":{"type":"text","text":"Hi: 26.37","color":"#333333","fontSize":11,"align":"center","baseline":"middle"},
 "encoding":{"x":{"datum":747.5,"type":"quantitative","axis":null},"y":{"datum":26.965,"type":"quantitative","title":null}}},
{"data":{"values":[{}]},"mark":{"type":"rule","color":"#e6e6e6","strokeWidth":1.5},
 "encoding":{"x":{"datum":22,"type":"quantitative","axis":null},"x2":{"datum":27},"y":{"datum":3.79,"type":"quantitative","title":null},"y2":{"datum":3.53}}},
{"data":{"values":[{}]},"mark":{"type":"rect","fill":"#ececec","stroke":"#a0a0a0","strokeWidth":0.8,"cornerRadius":4},
 "encoding":{"x":{"datum":15,"type":"quantitative","axis":null},"x2":{"datum":66},"y":{"datum":3.53,"type":"quantitative","title":null},"y2":{"datum":3.0}}},
{"data":{"values":[{}]},"mark":{"type":"text","text":"Lo: 3.81","color":"#333333","fontSize":11,"align":"center","baseline":"middle"},
 "encoding":{"x":{"datum":40.5,"type":"quantitative","axis":null},"y":{"datum":3.265,"type":"quantitative","title":null}}},
{"data":{"values":[{}]},"mark":{"type":"rect","fill":"#f06060","cornerRadius":3},
 "encoding":{"x":{"datum":1857,"type":"quantitative","axis":null},"x2":{"datum":1886},"y":{"datum":4.3,"type":"quantitative","title":null},"y2":{"datum":3.83}}},
{"data":{"values":[{}]},"mark":{"type":"text","text":"4.05","color":"#3a0a0a","fontSize":10,"align":"center","baseline":"middle"},
 "encoding":{"x":{"datum":1871.5,"type":"quantitative","axis":null},"y":{"datum":4.06,"type":"quantitative","title":null}}},
{"data":{"values":[{}]},"mark":{"type":"text","text":"BBGI 5 D 1m","color":"#f2f2f2","fontSize":10.5,"fontWeight":"bold","align":"left","baseline":"middle"},
 "encoding":{"x":{"datum":4,"type":"quantitative","axis":null},"y":{"datum":27.69,"type":"quantitative","title":null}}},
{"data":{"values":[{}]},"mark":{"type":"text","text":"D: 12/10/25 10:55 PM","color":"#a4a4a4","fontSize":10.5,"align":"left","baseline":"middle"},
 "encoding":{"x":{"datum":79,"type":"quantitative","axis":null},"y":{"datum":27.69,"type":"quantitative","title":null}}},
{"data":{"values":[{}]},"mark":{"type":"text","text":"O: 11.35","color":"#a4a4a4","fontSize":10.5,"align":"left","baseline":"middle"},
 "encoding":{"x":{"datum":195,"type":"quantitative","axis":null},"y":{"datum":27.69,"type":"quantitative","title":null}}},
{"data":{"values":[{}]},"mark":{"type":"text","text":"H: 11.4","color":"#a4a4a4","fontSize":10.5,"align":"left","baseline":"middle"},
 "encoding":{"x":{"datum":247,"type":"quantitative","axis":null},"y":{"datum":27.69,"type":"quantitative","title":null}}},
{"data":{"values":[{}]},"mark":{"type":"text","text":"L: 11.35","color":"#a4a4a4","fontSize":10.5,"align":"left","baseline":"middle"},
 "encoding":{"x":{"datum":291,"type":"quantitative","axis":null},"y":{"datum":27.69,"type":"quantitative","title":null}}},
{"data":{"values":[{}]},"mark":{"type":"text","text":"C: 11.4","color":"#a4a4a4","fontSize":10.5,"align":"left","baseline":"middle"},
 "encoding":{"x":{"datum":339,"type":"quantitative","axis":null},"y":{"datum":27.69,"type":"quantitative","title":null}}},
{"data":{"values":[{}]},"mark":{"type":"text","text":"R: 0.05","color":"#a4a4a4","fontSize":10.5,"align":"left","baseline":"middle"},
 "encoding":{"x":{"datum":382,"type":"quantitative","axis":null},"y":{"datum":27.69,"type":"quantitative","title":null}}},
{"data":{"values":[{}]},"mark":{"type":"text","text":"Prev_Close (DAY, no)","color":"#e85050","fontSize":10.5,"align":"left","baseline":"middle"},
 "encoding":{"x":{"datum":425,"type":"quantitative","axis":null},"y":{"datum":27.69,"type":"quantitative","title":null}}},
{"data":{"values":[{}]},"mark":{"type":"text","text":"4.05","color":"#e85050","fontSize":10.5,"align":"left","baseline":"middle"},
 "encoding":{"x":{"datum":540,"type":"quantitative","axis":null},"y":{"datum":27.69,"type":"quantitative","title":null}}},
{"data":{"values":[{}]},"mark":{"type":"rule","color":"#4a4a4a","strokeWidth":1},
 "encoding":{"x":{"datum":4,"type":"quantitative","axis":null},"x2":{"datum":1855},"y":{"datum":2.768,"type":"quantitative","title":null}}},
{"data":{"values":[{}]},"mark":{"type":"rule","color":"#4a4a4a","strokeWidth":1},
 "encoding":{"x":{"datum":4,"type":"quantitative","axis":null},"x2":{"datum":1855},"y":{"datum":2.141,"type":"quantitative","title":null}}},
{"data":{"values":[{}]},"mark":{"type":"rule","color":"#4a4a4a","strokeWidth":1},
 "encoding":{"x":{"datum":49,"type":"quantitative","axis":null},"y":{"datum":2.768,"type":"quantitative","title":null},"y2":{"datum":2.141}}},
{"data":{"values":[{}]},"mark":{"type":"rule","color":"#4a4a4a","strokeWidth":1},
 "encoding":{"x":{"datum":71,"type":"quantitative","axis":null},"y":{"datum":2.768,"type":"quantitative","title":null},"y2":{"datum":2.141}}},
{"data":{"values":[{}]},"mark":{"type":"text","text":"Volume","color":"#f0f0f0","fontSize":10.5,"align":"left","baseline":"middle"},
 "encoding":{"x":{"datum":6,"type":"quantitative","axis":null},"y":{"datum":2.44,"type":"quantitative","title":null}}},
{"data":{"values":[{}]},"mark":{"type":"text","text":"68","color":"#a4a4a4","fontSize":10.5,"align":"left","baseline":"middle"},
 "encoding":{"x":{"datum":54,"type":"quantitative","axis":null},"y":{"datum":2.44,"type":"quantitative","title":null}}}
]},
{"width":1851,"height":112,
"view":{"fill":"#1c1c1c","stroke":"#4a4a4a"},
"layer":[
{"data":{"name":"vol"},"mark":{"type":"rule","color":"#cfcfcf","strokeWidth":1},
 "encoding":{"x":{"field":"i","type":"quantitative","title":null,"scale":{"domain":[4,1855],"nice":false,"zero":false},
   "axis":{"values":[17,67,105,147,228,308,349,442,492,541,625,716,773,828,874,950,1021,1096,1167,1239,1299,1362,1427,1500,1574,1646,1719,1793,1852],"tickCount":100,
    "labelExpr":"['8:02','Thu','Fri','13:20','Mon','Tue','Wed','10:02','11:14','12:10','13:04','14:03','15:00','15:30','16:00','16:30','17:00','17:30','18:00','18:30','19:01','19:30','20:00','20:30','21:00','21:30','22:00','22:30','23:00'][indexof([17,67,105,147,228,308,349,442,492,541,625,716,773,828,874,950,1021,1096,1167,1239,1299,1362,1427,1500,1574,1646,1719,1793,1852], datum.value)]",
    "labelAlign":{"condition":{"test":"datum.value > 1840","value":"left"},"value":"center"},
    "ticks":false,"domain":false,"grid":false,"labelOverlap":false,"labelBound":false,"labelFlush":false,"labelColor":"#9ea4ab","labelFontSize":10,"labelFont":"Open Sans","labelPadding":4,"title":null}},
  "y":{"field":"v","type":"quantitative","scale":{"domain":[0,806],"nice":false},
   "axis":{"orient":"right","values":[250,500,750],"tickCount":20,"format":"d","labelOverlap":false,"ticks":false,"domain":false,"grid":false,"labelColor":"#9ea4ab","labelFontSize":10,"labelFont":"Open Sans","labelPadding":3,"title":"<thousands>","titleColor":"#8c9299","titleFont":"Open Sans","titleFontSize":10,"titleFontWeight":"normal","titlePadding":26}},
  "y2":{"datum":0}}}
]}
]}
